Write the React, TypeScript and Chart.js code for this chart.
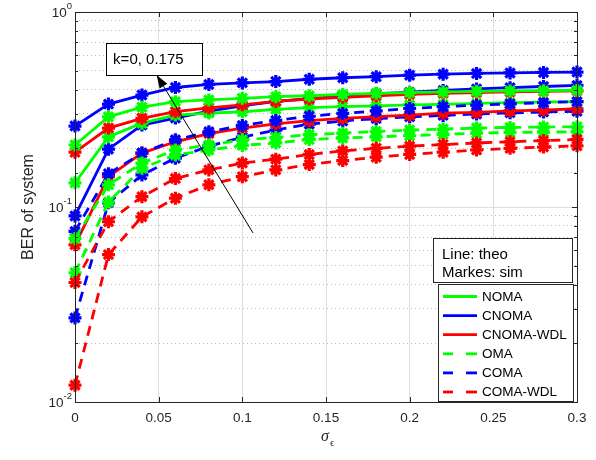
import React, { useEffect, useRef } from 'react';
import { Chart, registerables } from 'chart.js';

Chart.register(...registerables);

// ---- data ----
const SIGMA = [0, 0.02, 0.04, 0.06, 0.08, 0.1, 0.12, 0.14, 0.16, 0.18, 0.2, 0.22, 0.24, 0.26, 0.28, 0.3];

const NOMA_1 = [0.208, 0.29, 0.325, 0.347, 0.354, 0.361, 0.368, 0.372, 0.378, 0.383, 0.386, 0.389, 0.392, 0.394, 0.395, 0.397];
const NOMA_2 = [0.133, 0.229, 0.269, 0.296, 0.303, 0.308, 0.317, 0.323, 0.327, 0.33, 0.334, 0.336, 0.34, 0.343, 0.345, 0.347];
const CNOMA_1 = [0.26, 0.337, 0.375, 0.41, 0.425, 0.433, 0.44, 0.452, 0.46, 0.466, 0.474, 0.48, 0.484, 0.487, 0.49, 0.492];
const CNOMA_2 = [0.09, 0.198, 0.263, 0.286, 0.31, 0.33, 0.348, 0.36, 0.37, 0.38, 0.388, 0.396, 0.403, 0.409, 0.415, 0.42];
const CNOMA_WDL_1 = [0.191, 0.254, 0.285, 0.308, 0.322, 0.334, 0.348, 0.358, 0.365, 0.372, 0.378, 0.383, 0.386, 0.389, 0.392, 0.394];
const CNOMA_WDL_2 = [0.064, 0.143, 0.189, 0.216, 0.238, 0.254, 0.267, 0.277, 0.285, 0.291, 0.296, 0.303, 0.306, 0.311, 0.314, 0.319];
const OMA_1 = [0.069, 0.13, 0.168, 0.196, 0.208, 0.221, 0.227, 0.235, 0.239, 0.244, 0.248, 0.251, 0.254, 0.256, 0.257, 0.258];
const OMA_2 = [0.046, 0.106, 0.158, 0.185, 0.196, 0.207, 0.213, 0.222, 0.226, 0.229, 0.232, 0.236, 0.239, 0.241, 0.242, 0.243];
const COMA_1 = [0.075, 0.148, 0.189, 0.221, 0.243, 0.262, 0.278, 0.292, 0.302, 0.311, 0.32, 0.327, 0.333, 0.338, 0.343, 0.347];
const COMA_2 = [0.027, 0.105, 0.146, 0.178, 0.205, 0.228, 0.248, 0.266, 0.276, 0.284, 0.29, 0.295, 0.3, 0.304, 0.307, 0.31];
const COMA_WDL_1 = [0.041, 0.084, 0.113, 0.14, 0.155, 0.168, 0.176, 0.186, 0.194, 0.2, 0.205, 0.209, 0.213, 0.216, 0.219, 0.222];
const COMA_WDL_2 = [0.0122, 0.057, 0.089, 0.111, 0.13, 0.143, 0.155, 0.165, 0.173, 0.18, 0.186, 0.191, 0.196, 0.2, 0.203, 0.206];

const LEGEND_LABELS = ['NOMA', 'CNOMA', 'CNOMA-WDL', 'OMA', 'COMA', 'COMA-WDL'];
const X_TICKS = [0, 0.05, 0.1, 0.15, 0.2, 0.25, 0.3];
const Y_MIN = 0.01;
const Y_MAX = 1;
const NOTE_TEXT = 'k=0, 0.175';
const INFO_LINES = ['Line: theo', 'Markes: sim'];
const Y_TITLE = 'BER of system';

// annotation anchor points (data coordinates)
const ARROW_FROM = { x: 0.1064, y: 0.0736 };
const ARROW_TO = { x: 0.0488, y: 0.475 };
const NOTE_BOX = { x0: 0.0183, x1: 0.0757, y0: 0.696, y1: 0.475 };

const GREEN = '#00ff00';
const BLUE = '#0000ff';
const RED = '#ff0000';
const DASH = [10, 7];

const SERIES = [
  { label: LEGEND_LABELS[0], color: GREEN, dashed: false, values: [NOMA_1, NOMA_2] },
  { label: LEGEND_LABELS[1], color: BLUE, dashed: false, values: [CNOMA_1, CNOMA_2] },
  { label: LEGEND_LABELS[2], color: RED, dashed: false, values: [CNOMA_WDL_1, CNOMA_WDL_2] },
  { label: LEGEND_LABELS[3], color: GREEN, dashed: true, values: [OMA_1, OMA_2] },
  { label: LEGEND_LABELS[4], color: BLUE, dashed: true, values: [COMA_1, COMA_2] },
  { label: LEGEND_LABELS[5], color: RED, dashed: true, values: [COMA_WDL_1, COMA_WDL_2] },
];

function makeDatasets() {
  const first: any[] = [];
  const second: any[] = [];
  SERIES.forEach((s) => {
    s.values.forEach((vals, k) => {
      const ds = {
        label: s.label,
        data: vals.map((v, i) => ({ x: SIGMA[i], y: v })),
        borderColor: s.color,
        backgroundColor: s.color,
        borderWidth: 2.8,
        borderDash: s.dashed ? DASH : [],
        pointStyle: 'star',
        pointRadius: 6.5,
        pointBorderWidth: 3.2,
        pointBorderColor: s.color,
        pointBackgroundColor: s.color,
        tension: 0,
        fill: false,
        clip: false,
      };
      (k === 0 ? first : second).push(ds);
    });
  });
  return [...first, ...second];
}

const isDecade = (v: number) => Math.abs(Math.log10(v) - Math.round(Math.log10(v))) < 1e-6;

const TEXT_COLOR = '#262626';
const SANS = '"Liberation Sans", Arial, Helvetica, sans-serif';

const overlayPlugin = {
  id: 'overlay',
  afterDraw(chart: any) {
    const { ctx, chartArea: a, scales } = chart;
    const xs = scales.x;
    const ys = scales.y;
    ctx.save();

    const seg = (x1: number, y1: number, x2: number, y2: number) => {
      ctx.beginPath();
      ctx.moveTo(x1, y1);
      ctx.lineTo(x2, y2);
      ctx.stroke();
    };

    // axes box
    ctx.setLineDash([]);
    ctx.strokeStyle = TEXT_COLOR;
    ctx.lineWidth = 1;
    ctx.strokeRect(Math.round(a.left) + 0.5, Math.round(a.top) + 0.5, Math.round(a.right - a.left), Math.round(a.bottom - a.top));

    // inward tick marks
    xs.ticks.forEach((t: any) => {
      const px = Math.round(xs.getPixelForValue(t.value)) + 0.5;
      seg(px, a.bottom, px, a.bottom - 5);
      seg(px, a.top, px, a.top + 5);
    });
    ys.ticks.forEach((t: any) => {
      const py = Math.round(ys.getPixelForValue(t.value)) + 0.5;
      const len = isDecade(t.value) ? 5 : 3;
      seg(a.left, py, a.left + len, py);
      seg(a.right, py, a.right - len, py);
    });

    // y tick labels 10^n
    ctx.fillStyle = TEXT_COLOR;
    ctx.textBaseline = 'middle';
    ys.ticks.forEach((t: any) => {
      if (!isDecade(t.value)) return;
      const py = ys.getPixelForValue(t.value);
      const exp = String(Math.round(Math.log10(t.value)));
      ctx.font = `9.5px ${SANS}`;
      ctx.textAlign = 'right';
      const ew = ctx.measureText(exp).width;
      const xr = a.left - 3;
      ctx.fillText(exp, xr, py - 6);
      ctx.font = `13.5px ${SANS}`;
      ctx.fillText('10', xr - ew, py + 1);
    });

    // y title
    ctx.save();
    ctx.translate(29, (a.top + a.bottom) / 2);
    ctx.rotate(-Math.PI / 2);
    ctx.font = `16px ${SANS}`;
    ctx.textAlign = 'center';
    ctx.textBaseline = 'middle';
    ctx.fillText(Y_TITLE, 0, 0);
    ctx.restore();

    // x title: sigma with subscript epsilon
    const cx = (a.left + a.right) / 2;
    ctx.font = `italic 16px "Liberation Serif", "Times New Roman", serif`;
    ctx.textAlign = 'right';
    ctx.textBaseline = 'alphabetic';
    ctx.fillText('\u03C3', cx + 3, 441);
    ctx.font = `11px "Liberation Serif", "Times New Roman", serif`;
    ctx.textAlign = 'left';
    ctx.fillText('\u03F5', cx + 4, 446);

    // arrow annotation
    const fx = xs.getPixelForValue(ARROW_FROM.x);
    const fy = ys.getPixelForValue(ARROW_FROM.y);
    const tx = xs.getPixelForValue(ARROW_TO.x);
    const ty = ys.getPixelForValue(ARROW_TO.y);
    ctx.strokeStyle = '#000';
    ctx.lineWidth = 1;
    const ang = Math.atan2(ty - fy, tx - fx);
    const hl = 13;
    const hw = 4.5;
    const bx = tx - hl * Math.cos(ang);
    const by = ty - hl * Math.sin(ang);
    seg(fx, fy, bx, by);
    ctx.fillStyle = '#000';
    ctx.beginPath();
    ctx.moveTo(tx, ty);
    ctx.lineTo(bx + hw * Math.sin(ang), by - hw * Math.cos(ang));
    ctx.lineTo(bx - hw * Math.sin(ang), by + hw * Math.cos(ang));
    ctx.closePath();
    ctx.fill();

    // note box
    const nx0 = xs.getPixelForValue(NOTE_BOX.x0);
    const nx1 = xs.getPixelForValue(NOTE_BOX.x1);
    const ny0 = ys.getPixelForValue(NOTE_BOX.y0);
    const ny1 = ys.getPixelForValue(NOTE_BOX.y1);
    ctx.fillStyle = '#fff';
    ctx.fillRect(nx0, ny0, nx1 - nx0, ny1 - ny0);
    ctx.strokeStyle = '#000';
    ctx.strokeRect(Math.round(nx0) + 0.5, Math.round(ny0) + 0.5, Math.round(nx1 - nx0), Math.round(ny1 - ny0));
    ctx.fillStyle = '#000';
    ctx.font = `15px ${SANS}`;
    ctx.textAlign = 'left';
    ctx.textBaseline = 'middle';
    ctx.fillText(NOTE_TEXT, nx0 + 7.5, (ny0 + ny1) / 2 + 1);

    // info box
    const ibx0 = a.right - 144;
    const ibx1 = a.right - 5;
    const iby0 = a.bottom - 164;
    const iby1 = a.bottom - 120;
    ctx.fillStyle = '#fff';
    ctx.fillRect(ibx0, iby0, ibx1 - ibx0, iby1 - iby0);
    ctx.strokeStyle = TEXT_COLOR;
    ctx.strokeRect(Math.round(ibx0) + 0.5, Math.round(iby0) + 0.5, Math.round(ibx1 - ibx0), Math.round(iby1 - iby0));
    ctx.fillStyle = '#000';
    ctx.font = `15px ${SANS}`;
    ctx.fillText(INFO_LINES[0], ibx0 + 9, iby0 + 16.5);
    ctx.fillText(INFO_LINES[1], ibx0 + 9, iby0 + 35);

    // legend
    const lx0 = a.right - 139;
    const lx1 = a.right - 4;
    const ly0 = a.bottom - 118;
    const ly1 = a.bottom - 1;
    ctx.fillStyle = '#fff';
    ctx.fillRect(lx0, ly0, lx1 - lx0, ly1 - ly0);
    ctx.strokeStyle = TEXT_COLOR;
    ctx.lineWidth = 1;
    ctx.strokeRect(Math.round(lx0) + 0.5, Math.round(ly0) + 0.5, Math.round(lx1 - lx0), Math.round(ly1 - ly0));
    const dsets = chart.data.datasets;
    for (let i = 0; i < LEGEND_LABELS.length; i++) {
      const ds = dsets[i];
      const ry = ly0 + 12.5 + i * 19.1;
      ctx.strokeStyle = ds.borderColor;
      ctx.lineWidth = ds.borderWidth;
      ctx.setLineDash([]);
      const sx0 = lx0 + 5;
      const sx1 = lx0 + 39;
      if (ds.borderDash && ds.borderDash.length) {
        seg(sx0, ry, sx0 + 10, ry);
        seg(sx1 - 11, ry, sx1, ry);
      } else {
        seg(sx0, ry, sx1, ry);
      }
      ctx.fillStyle = '#000';
      ctx.font = `13.5px ${SANS}`;
      ctx.textAlign = 'left';
      ctx.textBaseline = 'middle';
      ctx.fillText(LEGEND_LABELS[i], lx0 + 44, ry + 0.5);
    }

    ctx.restore();
  },
};

export default function App() {
  const canvasRef = useRef<HTMLCanvasElement | null>(null);

  useEffect(() => {
    document.body.style.margin = '0';
    const canvas = canvasRef.current;
    if (!canvas) return;
    const chart = new Chart(canvas, {
      type: 'line',
      data: { datasets: makeDatasets() },
      options: {
        animation: false,
        responsive: false,
        devicePixelRatio: 1,
        layout: { padding: { left: 0, right: 19, top: 12, bottom: 0 } },
        plugins: {
          legend: { display: false },
          tooltip: { enabled: false },
        },
        scales: {
          x: {
            type: 'linear',
            min: 0,
            max: 0.3,
            afterBuildTicks: (scale: any) => {
              scale.ticks = X_TICKS.map((v) => ({ value: v }));
            },
            afterFit: (scale: any) => {
              scale.height = 58;
            },
            ticks: {
              color: TEXT_COLOR,
              font: { family: SANS, size: 13.5 },
              padding: 8,
              maxRotation: 0,
              autoSkip: false,
              callback: (v: any) => String(Number(Number(v).toFixed(2))),
            },
            grid: { color: '#dedede', lineWidth: 1, drawTicks: false },
            border: { display: false },
          },
          y: {
            type: 'logarithmic',
            min: Y_MIN,
            max: Y_MAX,
            afterFit: (scale: any) => {
              scale.width = 75;
            },
            ticks: { display: false, autoSkip: false },
            grid: {
              drawTicks: false,
              lineWidth: 1,
              color: (ctx: any) => (ctx.tick && isDecade(ctx.tick.value) ? '#dedede' : '#b8b8b8'),
            },
            border: {
              display: false,
              dash: (ctx: any) => (ctx.tick && !isDecade(ctx.tick.value) ? [1, 3] : []),
            },
          },
        },
      },
      plugins: [overlayPlugin],
    } as any);
    return () => chart.destroy();
  }, []);

  return (
    <div style={{ position: 'absolute', left: 0, top: 0, width: 596, height: 460, background: '#fff' }}>
      <canvas ref={canvasRef} width={596} height={460} style={{ display: 'block' }} />
    </div>
  );
}
